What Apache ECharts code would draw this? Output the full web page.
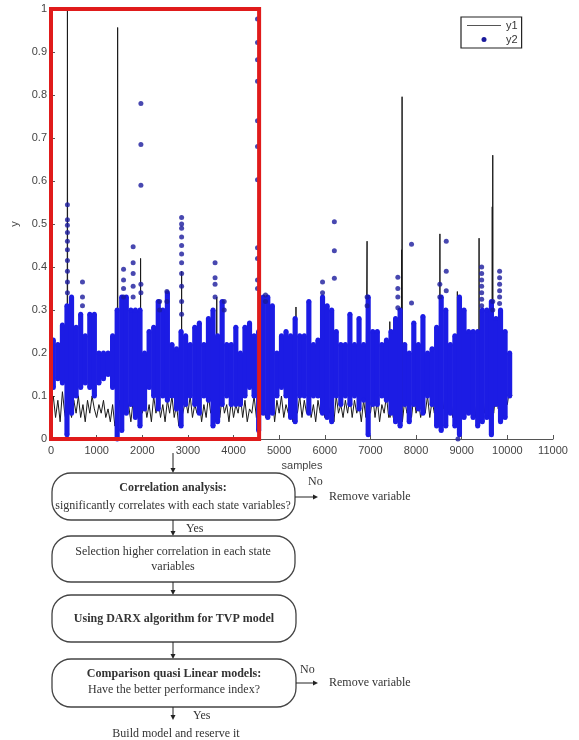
<!DOCTYPE html>
<html>
<head>
<meta charset="utf-8">
<script src="https://cdn.jsdelivr.net/npm/echarts@6/dist/echarts.min.js"></script>
<style>
  html, body { margin: 0; padding: 0; background: #fff; }
  #chart { width: 579px; height: 740px; }
</style>
</head>
<body>
<div id="chart"></div>
<script>
// ---- data -------------------------------------------------------------
// y1: regular samples every 50 points (0 .. 10100)
const y1Step = 50;
const y1 = [
  0.06,0.10,0.05,0.09,0.04,0.11,0.06,0.03,0.08,0.05,
  0.09,0.06,0.10,0.05,0.08,0.04,0.09,0.06,0.10,0.07,
  0.05,0.08,0.06,0.09,0.05,0.07,0.04,0.08,0.03,0.06,
  0.09,0.05,0.10,0.06,0.08,0.04,0.09,0.05,0.07,0.10,
  0.06,0.09,0.05,0.08,0.04,0.10,0.06,0.09,0.05,0.08,
  0.04,0.09,0.06,0.10,0.05,0.08,0.03,0.07,0.05,0.09,
  0.06,0.10,0.05,0.08,0.06,0.09,0.04,0.08,0.05,0.10,
  0.06,0.09,0.04,0.07,0.05,0.10,0.06,0.08,0.04,0.09,
  0.05,0.08,0.06,0.10,0.05,0.09,0.04,0.07,0.06,0.10,
  0.05,0.09,0.06,0.11,0.05,0.08,0.06,0.10,0.04,0.09,
  0.06,0.10,0.05,0.08,0.06,0.09,0.04,0.08,0.06,0.10,
  0.05,0.09,0.06,0.10,0.05,0.08,0.04,0.09,0.06,0.10,
  0.05,0.08,0.06,0.09,0.04,0.10,0.06,0.08,0.05,0.09,
  0.06,0.10,0.05,0.09,0.06,0.08,0.04,0.09,0.05,0.08,
  0.06,0.10,0.05,0.09,0.04,0.08,0.06,0.10,0.05,0.09,
  0.05,0.08,0.06,0.10,0.04,0.09,0.06,0.08,0.05,0.10,
  0.06,0.09,0.05,0.08,0.06,0.10,0.05,0.09,0.06,0.11,
  0.06,0.10,0.07,0.12,0.06,0.11,0.05,0.12,0.07,0.11,
  0.06,0.12,0.07,0.10,0.06,0.12,0.05,0.11,0.07,0.12,
  0.06,0.10,0.07,0.12,0.06,0.11,0.07,0.12,0.08,0.11,
  0.08,0.12,0.10
];
// y1 peaks: [sample, value]
const y1Peaks = [
  [354,0.07],[360,1.0],[366,0.06],
  [1454,0.05],[1460,0.957],[1466,0.04],
  [1958,0.06],[1963,0.42],[1968,0.07],
  [2857,0.06],[2862,0.39],[2867,0.05],
  [3627,0.07],[3632,0.33],[3637,0.05],
  [4540,0.06],[4546,0.56],[4552,0.08],
  [5363,0.06],[5368,0.307],[5373,0.07],
  [6921,0.05],[6926,0.46],[6931,0.07],
  [7419,0.06],[7424,0.273],[7429,0.05],
  [7676,0.06],[7681,0.44],[7688,0.08],[7693,0.796],[7698,0.06],
  [8517,0.07],[8522,0.477],[8527,0.06],
  [8899,0.08],[8904,0.343],[8909,0.07],
  [9375,0.08],[9380,0.467],[9385,0.07],
  [9663,0.08],[9669,0.54],[9675,0.09],[9680,0.66],[9685,0.08]
];

// y2: spread of the dense samples per block of 100 samples
const y2Block = 100;
const y2Lo = [
  0.12,0.14,0.13,0.01,0.06,0.10,0.12,0.13,0.12,0.10,
  0.13,0.14,0.15,0.12,0.00,0.02,0.06,0.08,0.05,0.03,
  0.07,0.12,0.10,0.07,0.10,0.09,0.10,0.07,0.03,0.08,
  0.10,0.08,0.06,0.10,0.09,0.03,0.04,0.08,0.10,0.08,
  0.08,0.08,0.10,0.12,0.10,0.02,0.06,0.05,0.06,0.10,
  0.12,0.10,0.05,0.04,0.10,0.10,0.06,0.10,0.10,0.06,
  0.05,0.04,0.10,0.08,0.10,0.08,0.10,0.07,0.09,0.01,
  0.08,0.08,0.10,0.09,0.06,0.04,0.03,0.08,0.04,0.08,
  0.07,0.06,0.10,0.08,0.03,0.02,0.03,0.06,0.03,0.01,
  0.05,0.06,0.05,0.03,0.04,0.05,0.01,0.08,0.04,0.05,
  0.10
];
const y2Hi = [
  0.23,0.22,0.265,0.31,0.33,0.26,0.29,0.24,0.29,0.29,
  0.20,0.20,0.20,0.24,0.30,0.33,0.33,0.30,0.30,0.30,
  0.20,0.25,0.26,0.32,0.30,0.34,0.22,0.21,0.25,0.24,
  0.22,0.26,0.27,0.22,0.28,0.30,0.24,0.32,0.22,0.22,
  0.26,0.20,0.26,0.27,0.24,0.25,0.33,0.33,0.31,0.20,
  0.24,0.25,0.24,0.28,0.24,0.24,0.32,0.22,0.23,0.33,
  0.31,0.30,0.25,0.22,0.22,0.29,0.22,0.28,0.22,0.33,
  0.25,0.25,0.22,0.23,0.25,0.28,0.30,0.22,0.20,0.27,
  0.22,0.285,0.20,0.21,0.26,0.33,0.30,0.22,0.24,0.33,
  0.30,0.25,0.25,0.25,0.30,0.30,0.32,0.28,0.30,0.25,
  0.20
];
// y2: samples standing out of the dense band, [sample, value]
const y2Outliers = [
  [360,0.545],[360,0.51],[360,0.497],[360,0.48],[360,0.46],[360,0.44],[360,0.415],[360,0.39],[360,0.365],[360,0.34],
  [690,0.365],[690,0.33],[690,0.31],
  [1590,0.395],[1590,0.37],[1590,0.35],[1590,0.33],
  [1800,0.447],[1800,0.41],[1800,0.385],[1800,0.355],[1800,0.33],
  [1970,0.78],[1970,0.685],[1970,0.59],[1970,0.36],[1970,0.34],
  [2380,0.32],[2380,0.30],
  [2540,0.343],[2540,0.32],
  [2862,0.515],[2862,0.50],[2862,0.49],[2862,0.47],[2862,0.45],[2862,0.43],[2862,0.41],[2862,0.385],[2862,0.355],[2862,0.32],[2862,0.29],
  [3595,0.41],[3595,0.375],[3595,0.36],[3595,0.33],
  [3795,0.32],[3795,0.30],
  [4525,0.977],[4525,0.922],[4525,0.882],[4525,0.832],[4525,0.74],[4525,0.68],[4525,0.603],[4525,0.445],[4525,0.42],[4525,0.37],[4525,0.35],
  [4700,0.335],[4700,0.32],
  [5950,0.365],[5950,0.34],
  [6209,0.505],[6209,0.438],[6209,0.374],
  [6927,0.33],[6927,0.31],
  [7600,0.376],[7600,0.35],[7600,0.33],[7600,0.305],
  [7900,0.453],[7900,0.316],
  [8520,0.36],[8520,0.33],
  [8661,0.46],[8661,0.39],[8661,0.345],
  [8917,0.0],
  [9437,0.40],[9437,0.385],[9437,0.37],[9437,0.355],[9437,0.34],[9437,0.325],[9437,0.31],
  [9680,0.32],[9680,0.30],
  [9830,0.39],[9830,0.375],[9830,0.36],[9830,0.345],[9830,0.33],[9830,0.315]
];
// highlighted window of samples
const windowSamples = [0, 4560];

// axis ticks
const xTicks = { min: 0, max: 11000, step: 1000 };
const yTicks = { min: 0, max: 1, step: 0.1 };

// ---- build series data --------------------------------------------------
const y1Points = y1.map((v, i) => [i * y1Step, v]).concat(y1Peaks)
  .sort((a, b) => a[0] - b[0]);
const y2Band = y2Lo.map((lo, i) => [i * y2Block, lo, y2Hi[i]]);

const BLUE = '#1c1ce4';
const DOT = '#1a1a9c';
const LINE = '#1a1a1a';

const chart = echarts.init(document.getElementById('chart'), null, { renderer: 'canvas' });

// flowchart helpers
const SERIF = '"Liberation Serif", "Times New Roman", serif';
const INK = '#333';
function box(x, y, w, h) {
  return { type: 'rect', shape: { x, y, width: w, height: h, r: 19 },
    style: { fill: '#fff', stroke: '#444', lineWidth: 1.3 } };
}
function txt(x, y, s, bold) {
  return { type: 'text', x, y, style: { text: s, font: (bold ? 'bold ' : '') + '12px ' + SERIF,
    fill: INK, align: 'center', verticalAlign: 'middle' } };
}
function ltxt(x, y, s) {
  return { type: 'text', x, y, style: { text: s, font: '12px ' + SERIF,
    fill: INK, align: 'left', verticalAlign: 'middle' } };
}
function down(x, y0, y1) {
  return [
    { type: 'line', shape: { x1: x, y1: y0, x2: x, y2: y1 - 4 }, style: { stroke: '#222', lineWidth: 1 } },
    { type: 'polygon', shape: { points: [[x - 2.5, y1 - 5], [x + 2.5, y1 - 5], [x, y1]] }, style: { fill: '#222' } }
  ];
}
function right(y, x0, x1) {
  return [
    { type: 'line', shape: { x1: x0, y1: y, x2: x1 - 4, y2: y }, style: { stroke: '#222', lineWidth: 1 } },
    { type: 'polygon', shape: { points: [[x1 - 5, y - 2.5], [x1 - 5, y + 2.5], [x1, y]] }, style: { fill: '#222' } }
  ];
}
const flow = [].concat(
  down(173, 453, 473),
  [box(52, 473, 243, 47), txt(173, 488, 'Correlation analysis:', true),
   txt(173, 506, 'significantly correlates with each state variables?', false)],
  right(497, 295, 318),
  [ltxt(308, 482, 'No'), ltxt(329, 497, 'Remove variable')],
  down(173, 520, 536),
  [ltxt(186, 529, 'Yes')],
  [box(52, 536, 243, 46), txt(173, 552, 'Selection higher correlation in each state', false),
   txt(173, 567, 'variables', false)],
  down(173, 582, 595),
  [box(52, 595, 244, 47), txt(174, 619, 'Using DARX algorithm for TVP model', true)],
  down(173, 642, 659),
  [box(52, 659, 244, 48), txt(174, 674, 'Comparison quasi Linear models:', true),
   txt(174, 690, 'Have the better performance index?', false)],
  right(683, 296, 318),
  [ltxt(300, 670, 'No'), ltxt(329, 683, 'Remove variable')],
  down(173, 707, 720),
  [ltxt(193, 716, 'Yes'), txt(176, 734, 'Build model and reserve it', false)]
);

const axisFont = { fontFamily: '"Liberation Sans", Arial, sans-serif', fontSize: 11, color: '#444' };

chart.setOption({
  animation: false,
  backgroundColor: '#fff',
  grid: { left: 51, right: 26, top: 9, bottom: 301, containLabel: false },
  xAxis: {
    type: 'value', min: xTicks.min, max: xTicks.max, interval: xTicks.step,
    name: 'samples', nameLocation: 'middle', nameGap: 21,
    nameTextStyle: axisFont,
    axisLine: { show: true, onZero: false, lineStyle: { color: '#555', width: 1 } },
    axisTick: { show: true, inside: true, length: 4, lineStyle: { color: '#555' } },
    axisLabel: Object.assign({ margin: 6, formatter: v => String(v) }, axisFont),
    splitLine: { show: false }
  },
  yAxis: {
    type: 'value', min: yTicks.min, max: yTicks.max, interval: yTicks.step,
    name: 'y', nameLocation: 'middle', nameGap: 31, nameRotate: 90,
    nameTextStyle: axisFont,
    axisLine: { show: true, lineStyle: { color: '#555', width: 1 } },
    axisTick: { show: true, inside: true, length: 4, lineStyle: { color: '#555' } },
    axisLabel: Object.assign({ margin: 4, formatter: v => String(Math.round(v * 10) / 10) }, axisFont),
    splitLine: { show: false }
  },
  legend: {
    orient: 'vertical', left: 461, top: 17,
    backgroundColor: '#fff', borderColor: '#222', borderWidth: 1.2, borderRadius: 0,
    padding: [3, 4, 3, 6], itemGap: 3, itemWidth: 34, itemHeight: 5,
    textStyle: { fontFamily: '"Liberation Sans", Arial, sans-serif', fontSize: 11, color: '#333' },
    data: [
      { name: 'y1', icon: 'path://M0,0H34V1H0Z', itemStyle: { color: '#555' } },
      { name: 'y2', icon: 'circle', itemStyle: { color: DOT } }
    ]
  },
  series: [
    {
      name: 'y1', type: 'line', data: y1Points, symbol: 'none', showSymbol: false,
      lineStyle: { color: LINE, width: 1 }, itemStyle: { color: LINE }, z: 2
    },
    {
      name: 'y2', type: 'custom', data: y2Band, z: 3, itemStyle: { color: BLUE },
      renderItem(params, api) {
        const s = api.value(0), lo = api.value(1), hi = api.value(2);
        const a = api.coord([s, lo]);
        const b = api.coord([s + y2Block, hi]);
        const w = b[0] - a[0];
        const cx = a[0] + w / 2;
        return {
          type: 'group', children: [
            { type: 'rect', shape: { x: a[0] - 0.3, y: b[1], width: w + 0.6, height: a[1] - b[1] }, style: { fill: BLUE } },
            { type: 'circle', shape: { cx, cy: b[1], r: 2.5 }, style: { fill: BLUE } },
            { type: 'circle', shape: { cx, cy: a[1], r: 2.5 }, style: { fill: BLUE } }
          ]
        };
      }
    },
    {
      name: 'y2', type: 'scatter', data: y2Outliers, symbolSize: 5,
      itemStyle: { color: DOT }, z: 4
    },
    {
      type: 'custom', data: [[windowSamples[0], yTicks.min, windowSamples[1], yTicks.max]], z: 10,
      silent: true,
      renderItem(params, api) {
        const p0 = api.coord([api.value(0), api.value(1)]);
        const p1 = api.coord([api.value(2), api.value(3)]);
        return { type: 'rect', shape: { x: p0[0], y: p1[1], width: p1[0] - p0[0], height: p0[1] - p1[1] },
          style: { fill: 'none', stroke: '#e01b1b', lineWidth: 4 } };
      }
    }
  ],
  graphic: { elements: flow }
});
</script>
</body>
</html>
